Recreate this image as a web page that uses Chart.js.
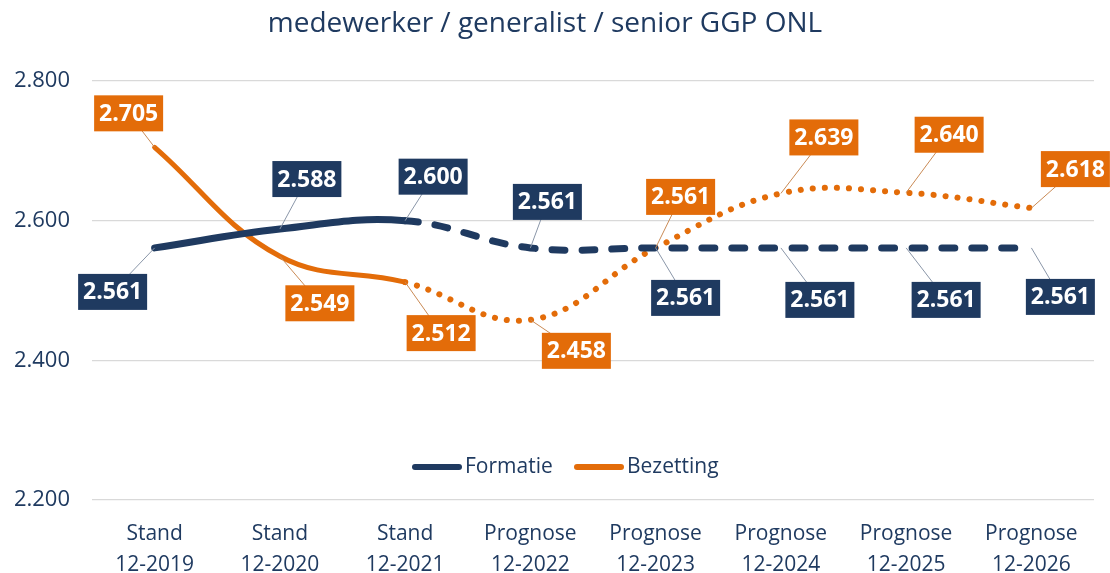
<!DOCTYPE html>
<html>
<head>
<meta charset="utf-8">
<script src="https://cdn.jsdelivr.net/npm/chart.js@4/dist/chart.umd.min.js"></script>
<style>
	html, body { margin:0; padding:0; background:#fff; }
	#wrap { width:1110px; height:573px; }
</style>
</head>
<body>
<div id="wrap"><canvas id="gpChart" width="1110" height="573"></canvas></div>
<script>
var titleText = 'medewerker / generalist / senior GGP ONL'
var categories = [
	['Stand', '12-2019'], ['Stand', '12-2020'], ['Stand', '12-2021'],
	['Prognose', '12-2022'], ['Prognose', '12-2023'], ['Prognose', '12-2024'],
	['Prognose', '12-2025'], ['Prognose', '12-2026']
]
var formatie = [2561, 2588, 2600, 2561, 2561, 2561, 2561, 2561]
var bezetting = [2705, 2549, 2512, 2458, 2561, 2639, 2640, 2618]
var yTicks = [2200, 2400, 2600, 2800]
var lastActual = 2   // index of last 'Stand' point

var navy = '#1f3a60'
var orange = '#e36c09'

function fmt( v ) {
	var s = String(Math.round(v))
	return s.slice(0, -3) + '.' + s.slice(-3)
}

// label box offsets (dx, dy) from the point, per dataset
var labelOffsets = [
	[[-42,44],[27,-50],[28,-44],[17,-46],[30,50],[39,52],[40,52],[29,49]],
	[[-26,-34],[40,47],[36,51],[46,31],[25,-51],[43,-56],[43,-58],[44,-39]]
]
var leaderColors = ['#8a96a8', '#c98a55']

var labelPlugin = {
	id: 'boxLabels',
	afterDatasetsDraw: function( chart ) {
		var c = chart.ctx
		chart.data.datasets.forEach(function( ds, di ) {
			var meta = chart.getDatasetMeta(di)
			meta.data.forEach(function( pt, i ) {
				var off = labelOffsets[di][i]
				var cx = pt.x + off[0], cy = pt.y + off[1]
				var w = 69, h = 36
				c.save()
				c.strokeStyle = leaderColors[di]
				c.lineWidth = 1
				c.beginPath()
				c.moveTo(pt.x, pt.y)
				c.lineTo(cx, cy)
				c.stroke()
				c.fillStyle = ds.borderColor
				c.fillRect(cx - w/2, cy - h/2, w, h)
				c.fillStyle = '#fff'
				c.font = 'bold 23px "Open Sans"'
				c.textAlign = 'center'
				c.textBaseline = 'middle'
				c.fillText(fmt(ds.data[i]), cx, cy + 1)
				c.restore()
			})
		})
	},
	afterDraw: function( chart ) {
		var c = chart.ctx
		c.save()
		c.fillStyle = navy
		c.font = '28px "Open Sans"'
		c.textAlign = 'center'
		c.textBaseline = 'middle'
		c.fillText(titleText, 545, 24)
		// legend inside plot area
		var items = [['Formatie', navy, 415], ['Bezetting', orange, 577]]
		c.font = '21px "Open Sans"'
		c.textAlign = 'left'
		items.forEach(function( it ) {
			c.strokeStyle = it[1]
			c.lineWidth = 6
			c.lineCap = 'round'
			c.beginPath()
			c.moveTo(it[2], 467)
			c.lineTo(it[2] + 44, 467)
			c.stroke()
			c.fillStyle = navy
			c.fillText(it[0], it[2] + 50, 467)
		})
		c.restore()
	}
}

var ctx = document.getElementById('gpChart')
var myChart = new Chart(ctx, {
	type: 'line',
	data: {
		labels: categories,
		datasets: [
			{
				label: 'Formatie',
				data: formatie,
				borderColor: navy,
				borderWidth: 7,
				borderCapStyle: 'round',
				tension: 0.4,
				pointRadius: 0,
				segment: {
					borderDash: function( s ) { return s.p0DataIndex >= lastActual ? [13, 17] : [] }
				}
			}, {
				label: 'Bezetting',
				data: bezetting,
				borderColor: orange,
				borderWidth: 5,
				borderCapStyle: 'round',
				tension: 0.4,
				pointRadius: 0,
				segment: {
					borderDash: function( s ) { return s.p0DataIndex >= lastActual ? [0.1, 12] : [] },
					borderWidth: function( s ) { return s.p0DataIndex >= lastActual ? 6 : 5 }
				}
			}
		]
	},
	options: {
		responsive: false,
		animation: false,
		clip: false,
		layout: { padding: { top: 81, right: 16, left: 0, bottom: 0 } },
		plugins: {
			legend: { display: false },
			tooltip: { enabled: false },
			title: { display: false }
		},
		scales: {
			x: {
				offset: true,
				grid: { display: false },
				border: { display: false },
				ticks: {
					color: navy,
					font: { family: 'Open Sans', size: 21, lineHeight: 1.5 },
					maxRotation: 0,
					padding: 10
				},
				afterFit: function( s ) { s.height = 73 }
			},
			y: {
				min: yTicks[0],
				max: yTicks[yTicks.length - 1],
				afterBuildTicks: function( s ) { s.ticks = yTicks.map(function( v ) { return { value: v } }) },
				grid: { color: '#d9d9d9', lineWidth: 1.3, drawTicks: false },
				border: { display: false },
				ticks: {
					color: navy,
					font: { family: 'Open Sans', size: 22 },
					padding: 22,
					callback: function( v ) { return fmt(v) }
				},
				afterFit: function( s ) { s.width = 92 }
			}
		}
	},
	plugins: [labelPlugin]
})
</script>
</body>
</html>
